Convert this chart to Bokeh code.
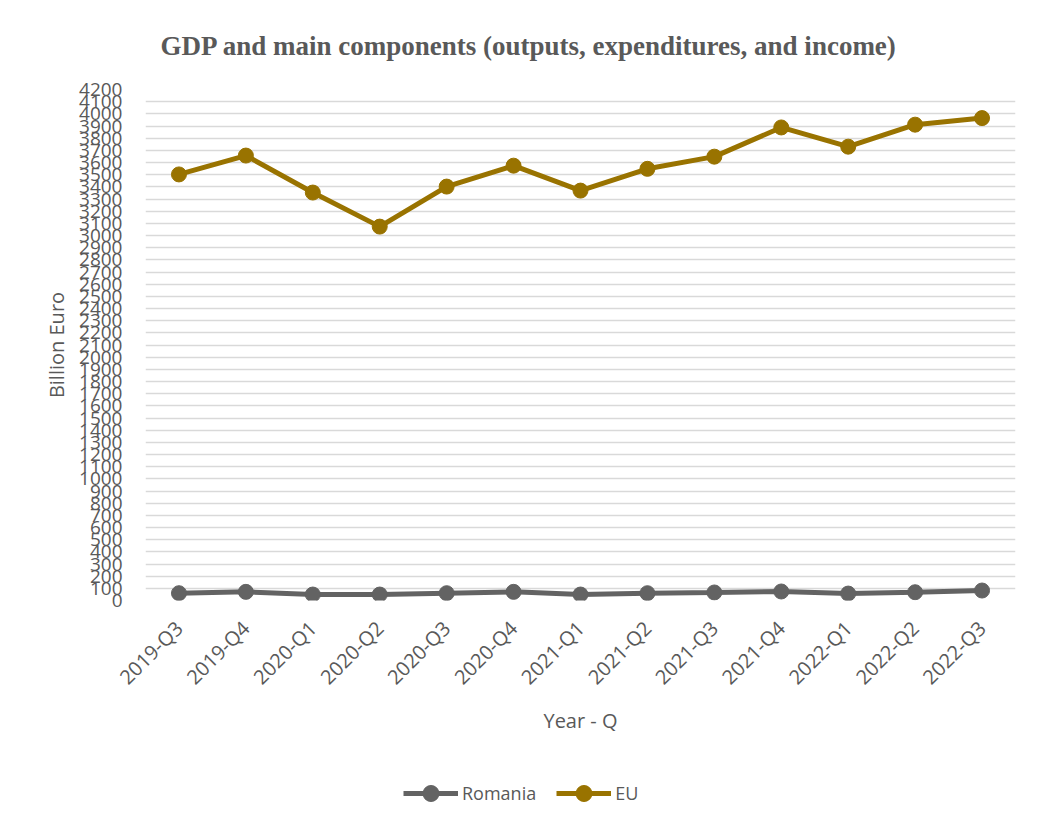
import math
from bokeh.plotting import figure
from bokeh.layouts import column
from bokeh.models import (FactorRange, Range1d, FixedTicker, Legend, LegendItem, Title)
from bokeh.embed import file_html
from bokeh.resources import INLINE

quarters = ["2019-Q3", "2019-Q4", "2020-Q1", "2020-Q2", "2020-Q3", "2020-Q4",
            "2021-Q1", "2021-Q2", "2021-Q3", "2021-Q4", "2022-Q1", "2022-Q2", "2022-Q3"]
romania = [60, 71, 49, 49, 60, 71, 49, 60, 66, 74, 57, 68, 82]
eu = [3502, 3657, 3353, 3073, 3402, 3574, 3369, 3548, 3648, 3888, 3730, 3911, 3965]
y_ticks = list(range(0, 4201, 100))
series_names = ["Romania", "EU"]

TXT = "#595959"
FONT = "Open Sans"
RO_COL = "#636363"
EU_COL = "#997300"

p = figure(x_range=FactorRange(factors=quarters, range_padding=0),
           y_range=Range1d(0, 4200),
           frame_width=870, frame_height=511,
           min_border_left=145, min_border_right=24,
           min_border_top=89, min_border_bottom=160,
           output_backend="svg", toolbar_location=None,
           background_fill_color="white", border_fill_color="white")
p.outline_line_color = None

t = Title(text="GDP and main components (outputs, expenditures, and income)",
          align="left", offset=15, text_font="Liberation Serif",
          text_font_size="27px", text_font_style="bold", text_color=TXT,
          text_line_height=0.9, standoff=57)
p.add_layout(t, "above")

# grid
p.xgrid.grid_line_color = None
p.ygrid.grid_line_color = "#d9d9d9"
p.ygrid.grid_line_width = 1.6
p.ygrid.ticker = FixedTicker(ticks=y_ticks)

# y axis
p.yaxis.ticker = FixedTicker(ticks=y_ticks)
p.yaxis.axis_line_color = None
p.yaxis.major_tick_line_color = None
p.yaxis.major_tick_out = 0
p.yaxis.minor_tick_line_color = None
p.yaxis.minor_tick_out = 0
p.yaxis.major_label_text_font = FONT
p.yaxis.major_label_text_font_size = "19px"
p.yaxis.major_label_text_color = TXT
p.yaxis.major_label_standoff = 23
p.yaxis.axis_label = "Billion Euro"
p.yaxis.axis_label_text_font = FONT
p.yaxis.axis_label_text_font_size = "20px"
p.yaxis.axis_label_text_font_style = "normal"
p.yaxis.axis_label_text_color = TXT
p.yaxis.axis_label_standoff = 6

# x axis
p.xaxis.axis_line_color = None
p.xaxis.major_tick_line_color = None
p.xaxis.major_tick_out = 0
p.xaxis.minor_tick_line_color = None
p.xaxis.minor_tick_out = 0
p.xaxis.major_label_orientation = math.pi / 4
p.xaxis.major_label_text_font = FONT
p.xaxis.major_label_text_font_size = "20px"
p.xaxis.major_label_text_color = TXT
p.xaxis.major_label_standoff = 24
p.xaxis.axis_label = "Year - Q"
p.xaxis.axis_label_text_font = FONT
p.xaxis.axis_label_text_font_size = "20px"
p.xaxis.axis_label_text_font_style = "normal"
p.xaxis.axis_label_text_color = TXT
p.xaxis.axis_label_standoff = 4

p.line(quarters, romania, line_color=RO_COL, line_width=5)
p.scatter(quarters, romania, size=15, fill_color=RO_COL, line_color=RO_COL)
p.line(quarters, eu, line_color=EU_COL, line_width=5)
p.scatter(quarters, eu, size=15, fill_color=EU_COL, line_color=EU_COL)

# legend strip below the chart: same series, drawn outside its visible range,
# so only the legend keys show
lg = figure(width=1039, height=60,
            x_range=FactorRange(factors=quarters, range_padding=0),
            y_range=Range1d(100000, 100001),
            x_axis_type=None, y_axis_type=None, min_border=0,
            output_backend="svg", toolbar_location=None,
            background_fill_color="white", border_fill_color="white")
lg.outline_line_color = None
lg.grid.grid_line_color = None
k_ro_l = lg.line(quarters, romania, line_color=RO_COL, line_width=5)
k_ro_s = lg.scatter(quarters, romania, size=15, fill_color=RO_COL, line_color=RO_COL)
k_eu_l = lg.line(quarters, eu, line_color=EU_COL, line_width=5)
k_eu_s = lg.scatter(quarters, eu, size=15, fill_color=EU_COL, line_color=EU_COL)

legend = Legend(items=[LegendItem(label=series_names[0], renderers=[k_ro_l, k_ro_s]),
                       LegendItem(label=series_names[1], renderers=[k_eu_l, k_eu_s])],
                orientation="horizontal", location=(258, 7),
                glyph_width=55, glyph_height=40, label_standoff=4, spacing=20,
                padding=0, margin=0,
                label_text_font=FONT, label_text_font_size="18px",
                label_text_color=TXT,
                border_line_color=None, background_fill_alpha=0)
lg.add_layout(legend, "center")

layout = column(p, lg, spacing=0)
open("out.html", "w").write(file_html(layout, INLINE))
